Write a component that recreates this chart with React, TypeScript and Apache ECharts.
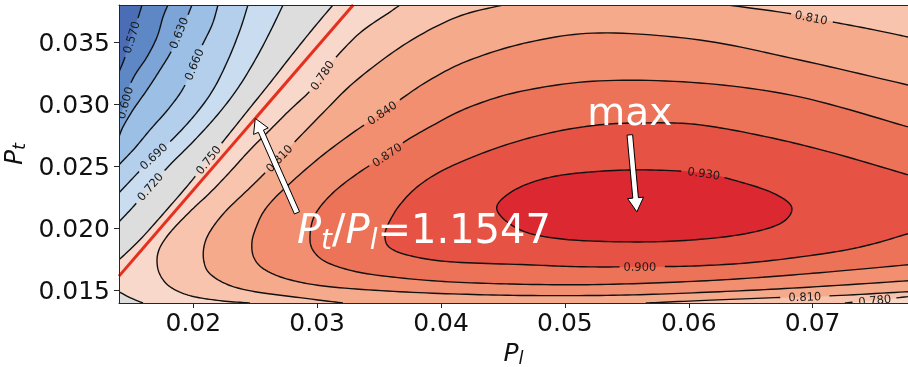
import { useEffect, useRef } from "react";
import * as echarts from "echarts";

// Axis extents and ticks (Pl on x, Pt on y)
const X_RANGE = [0.014, 0.0777];
const Y_RANGE = [0.014, 0.038];
const X_TICKS = [0.02, 0.03, 0.04, 0.05, 0.06, 0.07];
const Y_TICKS = [0.015, 0.02, 0.025, 0.03, 0.035];

// Contour levels and the fill colour of each band (below first level ... above last level)
const LEVELS = [0.57, 0.6, 0.63, 0.66, 0.69, 0.72, 0.75, 0.78, 0.81, 0.84, 0.87, 0.9, 0.93];
const BAND_COLORS = [
  "#4a6db5", "#5e87c5", "#7ca4d7", "#9bbfe5", "#b3cfec", "#c9dcf0", "#dddddd",
  "#f7d8cb", "#f8c4ae", "#f5aa8c", "#f18f70", "#ec7357", "#e65243", "#dc2830",
];

// Traced iso-lines, points are [Pl, Pt]
const C570 = [[0.01586, 0.038], [0.01553, 0.03695], [0.01513, 0.03583], [0.01473, 0.03454], [0.0144, 0.03357], [0.014, 0.03261]];
const C600 = [[0.01795, 0.038], [0.01755, 0.03703], [0.01707, 0.03542], [0.01626, 0.03382], [0.01529, 0.03237], [0.01473, 0.03116], [0.01448, 0.03012], [0.01416, 0.02915], [0.014, 0.02859]];
const C630 = [[0.01989, 0.038], [0.01949, 0.03703], [0.01892, 0.03599], [0.01828, 0.03438], [0.01731, 0.03277], [0.01626, 0.03116], [0.01513, 0.02955], [0.01432, 0.02818], [0.014, 0.02738]];
const C660 = [[0.02199, 0.038], [0.02151, 0.03639], [0.02054, 0.03438], [0.01933, 0.03156], [0.01812, 0.02979], [0.0165, 0.02794], [0.01529, 0.02649], [0.014, 0.02513]];
const C690 = [[0.02441, 0.038], [0.02377, 0.03599], [0.0228, 0.03357], [0.02159, 0.03116], [0.02013, 0.02915], [0.01828, 0.02714], [0.01666, 0.02569], [0.01529, 0.02424], [0.014, 0.02287]];
const C720 = [[0.02724, 0.038], [0.02635, 0.03615], [0.02522, 0.03398], [0.02377, 0.03156], [0.02215, 0.02939], [0.02013, 0.02714], [0.01812, 0.02513], [0.0165, 0.02336], [0.01529, 0.02191], [0.014, 0.02054]];
const C750 = [[0.03127, 0.038], [0.02958, 0.03599], [0.02796, 0.03398], [0.02619, 0.03172], [0.02457, 0.02971], [0.02296, 0.0277], [0.02134, 0.02569], [0.01973, 0.02368], [0.01771, 0.02134], [0.01569, 0.01909], [0.014, 0.01748]];
const C750_CORNER = [[0.014, 0.01491], [0.01473, 0.01451], [0.01545, 0.01419], [0.01594, 0.014]];
const C780 = [[0.03668, 0.038], [0.03587, 0.03743], [0.03345, 0.03575], [0.03119, 0.03341], [0.02966, 0.03132], [0.0278, 0.02955], [0.02619, 0.02794], [0.02457, 0.02633], [0.02296, 0.02456], [0.02134, 0.02287], [0.02013, 0.02175], [0.01868, 0.0203], [0.01779, 0.01925], [0.01723, 0.01829], [0.01707, 0.01732], [0.01731, 0.01628], [0.01812, 0.01531], [0.01973, 0.01459], [0.02215, 0.01419], [0.02457, 0.014]];
const C780_RIGHT = [[0.0726, 0.014], [0.07502, 0.01423], [0.0777, 0.01451]];
const C810 = [[0.04499, 0.038], [0.04128, 0.03703], [0.03724, 0.03494], [0.03321, 0.03197], [0.03046, 0.02931], [0.0278, 0.02657], [0.02619, 0.02488], [0.02457, 0.02328], [0.02256, 0.02134], [0.02134, 0.01974], [0.02086, 0.01853], [0.02086, 0.01732], [0.02134, 0.01636], [0.0228, 0.01547], [0.02498, 0.01491], [0.02861, 0.01443], [0.03208, 0.014]];
const C810_BOTTOM = [[0.05653, 0.014], [0.06089, 0.01419], [0.06694, 0.01443], [0.07179, 0.01459], [0.0777, 0.01491]];
const C810_TOP = [[0.06307, 0.038], [0.06791, 0.03735], [0.07163, 0.03663], [0.07461, 0.03607], [0.0777, 0.03542]];
const C840 = [[0.0777, 0.03156], [0.06896, 0.03357], [0.06089, 0.03518], [0.05282, 0.03575], [0.04717, 0.03502], [0.04233, 0.03357], [0.0391, 0.03197], [0.03668, 0.03036], [0.03523, 0.02931], [0.03264, 0.02754], [0.02998, 0.02553], [0.02724, 0.02311], [0.02578, 0.02151], [0.02506, 0.02006], [0.02473, 0.01885], [0.0249, 0.01764], [0.02578, 0.01668], [0.0278, 0.01587], [0.03103, 0.01531], [0.03668, 0.01491], [0.04314, 0.01467], [0.04959, 0.01459], [0.05605, 0.01467], [0.06251, 0.01491], [0.06896, 0.01523], [0.0777, 0.01579]];
const C870 = [[0.0777, 0.02818], [0.06896, 0.0306], [0.06089, 0.03172], [0.05282, 0.03189], [0.04661, 0.03108], [0.04233, 0.02979], [0.0391, 0.02818], [0.03692, 0.0269], [0.03563, 0.02593], [0.03345, 0.02456], [0.03127, 0.02287], [0.02982, 0.0211], [0.02942, 0.01933], [0.02974, 0.01813], [0.03103, 0.01716], [0.03402, 0.01636], [0.03934, 0.01579], [0.04475, 0.01555], [0.05121, 0.01547], [0.05766, 0.01563], [0.06412, 0.01595], [0.07058, 0.01644], [0.0777, 0.01708]];
const C900 = [[0.0777, 0.02432], [0.07163, 0.02609], [0.0663, 0.02738], [0.06089, 0.02835], [0.05686, 0.02851], [0.05282, 0.02835], [0.04879, 0.0277], [0.04475, 0.02657], [0.04072, 0.02497], [0.03829, 0.02352], [0.03668, 0.02191], [0.03571, 0.0203], [0.03547, 0.01933], [0.03587, 0.01845], [0.03749, 0.01781], [0.04072, 0.01732], [0.04693, 0.01708], [0.05121, 0.01692], [0.05605, 0.01692], [0.06089, 0.017], [0.06573, 0.01732], [0.07138, 0.01805], [0.07461, 0.01869], [0.0777, 0.01958]];
const C930 = [[0.04451, 0.02151], [0.04556, 0.02287], [0.04798, 0.02392], [0.05121, 0.02448], [0.05605, 0.02472], [0.06089, 0.02448], [0.06412, 0.02376], [0.06694, 0.02279], [0.06832, 0.02167], [0.06735, 0.02038], [0.06412, 0.0195], [0.05928, 0.01901], [0.05444, 0.01893], [0.04959, 0.01917], [0.04636, 0.0199]];

// Where each inline contour label sits
const CONTOUR_LABELS = [
  { level: 0.57, at: [0.01497, 0.03542] },
  { level: 0.6, at: [0.01448, 0.03012] },
  { level: 0.63, at: [0.01876, 0.03575] },
  { level: 0.66, at: [0.01997, 0.03317] },
  { level: 0.69, at: [0.01674, 0.02577] },
  { level: 0.72, at: [0.01658, 0.02328] },
  { level: 0.75, at: [0.02134, 0.02553] },
  { level: 0.78, at: [0.03038, 0.03245] },
  { level: 0.81, at: [0.02691, 0.02577] },
  { level: 0.84, at: [0.03523, 0.02931] },
  { level: 0.87, at: [0.03563, 0.02593] },
  { level: 0.81, at: [0.06977, 0.03703] },
  { level: 0.93, at: [0.06113, 0.02432] },
  { level: 0.9, at: [0.05605, 0.01692] },
  { level: 0.81, at: [0.06953, 0.01451] },
  { level: 0.78, at: [0.0751, 0.01427] },
];

// Annotations
const RATIO = 1.1547;
const RATIO_ARROW_FROM = [0.02837, 0.02126];
const RATIO_ARROW_TIP_X = 0.025;
const RATIO_LABEL_AT = [0.02837, 0.02];
const MAX_POINT = [0.05581, 0.02134];
const MAX_ARROW_FROM = [0.05524, 0.02754];
const MAX_LABEL_AT = [0.05524, 0.02943];

const CLOSED = new Set<number[][]>([C930]);

const CONTOUR_LINES = [
  { level: LEVELS[0], pts: C570 },
  { level: LEVELS[1], pts: C600 },
  { level: LEVELS[2], pts: C630 },
  { level: LEVELS[3], pts: C660 },
  { level: LEVELS[4], pts: C690 },
  { level: LEVELS[5], pts: C720 },
  { level: LEVELS[6], pts: C750 },
  { level: LEVELS[6], pts: C750_CORNER },
  { level: LEVELS[7], pts: C780 },
  { level: LEVELS[7], pts: C780_RIGHT },
  { level: LEVELS[8], pts: C810 },
  { level: LEVELS[8], pts: C810_BOTTOM },
  { level: LEVELS[8], pts: C810_TOP },
  { level: LEVELS[9], pts: C840 },
  { level: LEVELS[10], pts: C870 },
  { level: LEVELS[11], pts: C900 },
  { level: LEVELS[12], pts: C930 },
];

// Outline of each super-level region {f > level}, corners named by plot edge
const FILL_PATHS: (number[][] | string)[][] = [
  [C570, "BL", "BR", "TR"],
  [C600, "BL", "BR", "TR"],
  [C630, "BL", "BR", "TR"],
  [C660, "BL", "BR", "TR"],
  [C690, "BL", "BR", "TR"],
  [C720, "BL", "BR", "TR"],
  [C750, C750_CORNER, "BR", "TR"],
  [C780, C780_RIGHT, "TR"],
  [C810, C810_BOTTOM, [...C810_TOP].reverse()],
  [C840],
  [C870],
  [C900],
  [C930],
];

const FONT = '"DejaVu Sans"';
const LABEL_FONT_SIZE = 11.5;
const LABEL_GAP = 20;

// Catmull-Rom smoothing of a pixel polyline
function smooth(pts: number[][], closed: boolean, steps = 12): number[][] {
  const n = pts.length;
  const at = (i: number) =>
    closed ? pts[((i % n) + n) % n] : pts[Math.min(n - 1, Math.max(0, i))];
  const spans = closed ? n : n - 1;
  const out: number[][] = [];
  for (let i = 0; i < spans; i++) {
    const p0 = at(i - 1), p1 = at(i), p2 = at(i + 1), p3 = at(i + 2);
    for (let s = 0; s < steps; s++) {
      const t = s / steps, t2 = t * t, t3 = t2 * t;
      out.push(
        [0, 1].map(
          (k) =>
            0.5 *
            (2 * p1[k] +
              (p2[k] - p0[k]) * t +
              (2 * p0[k] - 5 * p1[k] + 4 * p2[k] - p3[k]) * t2 +
              (3 * p1[k] - p0[k] - 3 * p2[k] + p3[k]) * t3)
        )
      );
    }
  }
  out.push(closed ? out[0] : pts[n - 1]);
  return out;
}

function arrowPoints(from: number[], to: number[]) {
  const SHAFT = 2.8, HEAD = 8, HEAD_LEN = 14;
  const dx = to[0] - from[0], dy = to[1] - from[1];
  const len = Math.hypot(dx, dy);
  const ux = dx / len, uy = dy / len, nx = -uy, ny = ux;
  const bx = to[0] - ux * HEAD_LEN, by = to[1] - uy * HEAD_LEN;
  return [
    [from[0] + nx * SHAFT, from[1] + ny * SHAFT],
    [bx + nx * SHAFT, by + ny * SHAFT],
    [bx + nx * HEAD, by + ny * HEAD],
    [to[0], to[1]],
    [bx - nx * HEAD, by - ny * HEAD],
    [bx - nx * SHAFT, by - ny * SHAFT],
    [from[0] - nx * SHAFT, from[1] - ny * SHAFT],
  ];
}

function renderContours(params: any, api: any) {
  const cs = params.coordSys;
  const L = cs.x, T = cs.y, R = cs.x + cs.width, B = cs.y + cs.height;
  const corners: Record<string, number[]> = { BL: [L, B], BR: [R, B], TR: [R, T] };
  const toPx = (seg: number[][]) => seg.map((p) => api.coord(p));
  const children: any[] = [
    { type: "rect", shape: { x: L, y: T, width: cs.width, height: cs.height }, style: { fill: BAND_COLORS[0] } },
  ];

  FILL_PATHS.forEach((path, i) => {
    const pts: number[][] = [];
    path.forEach((part) => {
      if (typeof part === "string") pts.push(corners[part]);
      else pts.push(...smooth(toPx(part), CLOSED.has(part)));
    });
    children.push({
      type: "polygon",
      shape: { points: pts },
      style: { fill: BAND_COLORS[i + 1], stroke: BAND_COLORS[i + 1], lineWidth: 0.6 },
    });
  });

  const dense = CONTOUR_LINES.map((c) => ({ level: c.level, pts: smooth(toPx(c.pts), CLOSED.has(c.pts)) }));
  const cuts: number[][][] = dense.map(() => []);
  const texts: any[] = [];

  CONTOUR_LABELS.forEach((lab) => {
    const target = api.coord(lab.at);
    let best: { di: number; pi: number; dist: number } | null = null;
    dense.forEach((d, di) => {
      if (Math.abs(d.level - lab.level) > 1e-9) return;
      d.pts.forEach((p, pi) => {
        const dist = Math.hypot(p[0] - target[0], p[1] - target[1]);
        if (!best || dist < best.dist) best = { di, pi, dist };
      });
    });
    if (!best) return;
    const b = best as { di: number; pi: number; dist: number };
    const pts = dense[b.di].pts;
    const c = pts[b.pi];
    const p0 = pts[Math.max(0, b.pi - 3)];
    const p1 = pts[Math.min(pts.length - 1, b.pi + 3)];
    let ang = Math.atan2(-(p1[1] - p0[1]), p1[0] - p0[0]);
    if (ang > Math.PI / 2) ang -= Math.PI;
    if (ang < -Math.PI / 2) ang += Math.PI;
    cuts[b.di].push(c);
    texts.push({
      type: "text",
      x: c[0],
      y: c[1],
      rotation: ang,
      style: {
        text: lab.level.toFixed(3),
        fill: "#1a1a1a",
        font: `${LABEL_FONT_SIZE}px ${FONT}`,
        align: "center",
        verticalAlign: "middle",
      },
    });
  });

  dense.forEach((d, di) => {
    let run: number[][] = [];
    const flush = () => {
      if (run.length > 1)
        children.push({
          type: "polyline",
          shape: { points: run },
          style: { stroke: "#111111", lineWidth: 1.4, fill: "none" },
        });
      run = [];
    };
    d.pts.forEach((p) => {
      const hidden = cuts[di].some((c) => Math.hypot(p[0] - c[0], p[1] - c[1]) < LABEL_GAP);
      if (hidden) flush();
      else run.push(p);
    });
    flush();
  });

  children.push(...texts);
  return { type: "group", children };
}

function renderAnnotations(_params: any, api: any) {
  const children: any[] = [];
  const ratioTip = [RATIO_ARROW_TIP_X, RATIO * RATIO_ARROW_TIP_X];
  [
    [RATIO_ARROW_FROM, ratioTip],
    [MAX_ARROW_FROM, MAX_POINT],
  ].forEach(([f, t]) => {
    children.push({
      type: "polygon",
      shape: { points: arrowPoints(api.coord(f), api.coord(t)) },
      style: { fill: "#ffffff", stroke: "#000000", lineWidth: 1 },
    });
  });

  const r = api.coord(RATIO_LABEL_AT);
  const main = { fontSize: 40, fontFamily: FONT, fill: "#ffffff", lineHeight: 48 };
  children.push({
    type: "text",
    x: r[0],
    y: r[1],
    style: {
      text: `{i|P}{s|t}{n|/}{i|P}{s|l}{n|=${RATIO}}`,
      fill: "#ffffff",
      font: `40px ${FONT}`,
      align: "left",
      verticalAlign: "middle",
      rich: {
        i: { ...main, fontStyle: "italic" },
        s: { fontSize: 28, fontFamily: FONT, fontStyle: "italic", fill: "#ffffff", lineHeight: 48, padding: [22, 0, 0, 0] },
        n: { ...main },
      },
    },
  });

  const m = api.coord(MAX_LABEL_AT);
  children.push({
    type: "text",
    x: m[0],
    y: m[1],
    style: { text: "max", fill: "#ffffff", font: `39px ${FONT}`, align: "center", verticalAlign: "middle" },
  });
  return { type: "group", children };
}

const axisColor = "#262626";
const tickFont = { fontSize: 25, fontFamily: FONT, color: "#111111" };
const nameRich = {
  i: { fontSize: 25, fontFamily: FONT, fontStyle: "italic", color: "#111111", lineHeight: 28, verticalAlign: "middle" },
  s: { fontSize: 18, fontFamily: FONT, fontStyle: "italic", color: "#111111", lineHeight: 18, verticalAlign: "bottom" },
};

export default function App() {
  const ref = useRef<HTMLDivElement>(null);

  useEffect(() => {
    if (!ref.current) return;
    const chart = echarts.init(ref.current, undefined, { renderer: "svg" });
    chart.setOption({
      animation: false,
      grid: { left: 119, right: 0, top: 5, bottom: 64, containLabel: false, outerBoundsMode: "none" },
      xAxis: [
        {
          type: "value",
          min: X_RANGE[0],
          max: X_RANGE[1],
          position: "bottom",
          z: 10,
          axisLine: { show: true, onZero: false, lineStyle: { color: axisColor, width: 1 } },
          axisTick: { show: true, length: 5, customValues: X_TICKS, lineStyle: { color: axisColor } },
          axisLabel: { customValues: X_TICKS, formatter: (v: number) => v.toFixed(2), margin: 7, ...tickFont },
          splitLine: { show: false },
          name: "{i|P}{s|l}",
          nameLocation: "middle",
          nameGap: 32,
          nameTextStyle: { rich: nameRich },
        },
        {
          type: "value",
          min: X_RANGE[0],
          max: X_RANGE[1],
          position: "top",
          z: 10,
          axisLine: { show: true, onZero: false, lineStyle: { color: axisColor, width: 1 } },
          axisTick: { show: false },
          axisLabel: { show: false },
          splitLine: { show: false },
        },
      ],
      yAxis: [
        {
          type: "value",
          min: Y_RANGE[0],
          max: Y_RANGE[1],
          position: "left",
          z: 10,
          axisLine: { show: true, onZero: false, lineStyle: { color: axisColor, width: 1 } },
          axisTick: { show: true, length: 5, customValues: Y_TICKS, lineStyle: { color: axisColor } },
          axisLabel: { customValues: Y_TICKS, formatter: (v: number) => v.toFixed(3), margin: 9, ...tickFont },
          splitLine: { show: false },
          name: "{i|P}{s|t}",
          nameLocation: "middle",
          nameGap: 73,
          nameRotate: 90,
          nameTextStyle: { rich: nameRich },
        },
        {
          type: "value",
          min: Y_RANGE[0],
          max: Y_RANGE[1],
          position: "right",
          z: 10,
          axisLine: { show: true, onZero: false, lineStyle: { color: axisColor, width: 1 } },
          axisTick: { show: false },
          axisLabel: { show: false },
          splitLine: { show: false },
        },
      ],
      series: [
        {
          type: "custom",
          z: 1,
          clip: true,
          silent: true,
          renderItem: renderContours,
          data: [[X_RANGE[0], Y_RANGE[0]]],
        },
        {
          type: "line",
          z: 3,
          silent: true,
          showSymbol: false,
          lineStyle: { color: "#e6301f", width: 3 },
          data: [
            [X_RANGE[0], RATIO * X_RANGE[0]],
            [Y_RANGE[1] / RATIO, Y_RANGE[1]],
          ],
        },
        {
          type: "custom",
          z: 4,
          clip: false,
          silent: true,
          renderItem: renderAnnotations,
          data: [[X_RANGE[0], Y_RANGE[0]]],
        },
      ],
    });
    return () => chart.dispose();
  }, []);

  return <div ref={ref} style={{ position: "fixed", left: 0, top: 0, width: 908, height: 367 }} />;
}
